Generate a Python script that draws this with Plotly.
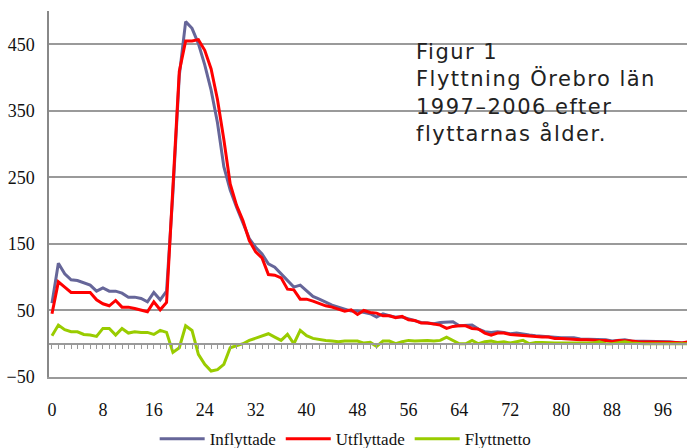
import plotly.graph_objects as go

ages = list(range(0, 101))

inflyttade = [61, 121, 105, 96, 95, 91, 88, 79, 84, 79, 79, 76, 70, 70, 68, 63, 77, 66, 79, 227,
              403, 484, 474, 451, 419, 381, 332, 266, 231, 205, 180, 158, 145, 135, 120, 115, 105, 95, 85, 88,
              79, 71, 67, 62, 58, 55, 52, 49, 49, 47, 45, 40, 45, 42, 40, 40, 37, 34, 32, 31,
              30, 32, 33, 33, 27, 27, 28, 22, 18, 17, 18, 17, 15, 16, 14, 13, 12, 11, 11, 10,
              9, 9, 9, 7, 7, 6, 6, 6, 4, 5, 6, 4, 4, 3, 3, 3, 3, 3, 2, 1, 2]

utflyttade = [45, 93, 85, 77, 77, 77, 77, 66, 60, 57, 65, 55, 55, 53, 50, 48, 63, 51, 62, 240,
              409, 455, 455, 457, 441, 413, 367, 307, 240, 208, 185, 155, 138, 129, 104, 103, 99, 82, 81, 67,
              67, 64, 60, 57, 55, 52, 49, 51, 44, 50, 47, 46, 42, 42, 39, 41, 36, 35, 31, 31,
              30, 28, 23, 26, 27, 27, 23, 22, 16, 13, 16, 16, 14, 13, 12, 12, 10, 10, 10, 8,
              8, 7, 7, 6, 6, 5, 5, 5, 3, 5, 5, 4, 3, 3, 3, 3, 3, 3, 2, 1, 3]

flyttnetto = [12, 28, 21, 18, 18, 14, 13, 11, 23, 23, 13, 23, 16, 18, 17, 17, 14, 20, 17, -13,
              -6, 27, 20, -16, -31, -41, -39, -31, -6, -3, 0, 5, 8, 12, 15, 10, 5, 14, 0, 20,
              12, 8, 6, 5, 4, 3, 4, 4, 4, 1, 2, -4, 4, 4, 0, 3, 5, 4, 5, 5,
              4, 5, 10, 5, 0, 0, 5, 0, 3, 4, 2, 3, 1, 3, 5, 0, 2, 2, 1, 1,
              1, 1, 1, 1, 1, 1, 3, 0, 0, 1, 3, 1, 0, 0, 0, 0, 0, 0, 0, 0, 0]

x_ticks = list(range(0, 97, 8))
y_ticks = [-50, 50, 150, 250, 350, 450]
title_lines = ["Figur 1", "Flyttning Örebro län", "1997–2006 efter", "flyttarnas ålder."]

serif = "Liberation Serif, Times New Roman, serif"
grid = "#9a9a9a"
xr = [-0.47, 99.77]

fig = go.Figure()
fig.add_trace(go.Scatter(x=ages, y=inflyttade, mode="lines", name="Inflyttade",
                         line=dict(color="#666699", width=3)))
fig.add_trace(go.Scatter(x=ages, y=utflyttade, mode="lines", name="Utflyttade",
                         line=dict(color="#ff0000", width=3)))
fig.add_trace(go.Scatter(x=ages, y=flyttnetto, mode="lines", name="Flyttnetto", xaxis="x2",
                         line=dict(color="#99cc00", width=3)))

fig.update_layout(
    width=687, height=448,
    margin=dict(l=49, r=0, t=11, b=71, autoexpand=False),
    paper_bgcolor="white", plot_bgcolor="white",
    font=dict(family=serif, size=18, color="#111"),
    xaxis=dict(range=xr, tickvals=x_ticks, showgrid=False, zeroline=False,
               showline=True, linecolor=grid, linewidth=1.5,
               ticks="", ticklabelstandoff=16, tickfont=dict(family=serif, size=18)),
    xaxis2=dict(range=xr, overlaying="x", anchor="free", position=50 / 550, side="bottom",
                showline=True, linecolor=grid, linewidth=1.5, showgrid=False, zeroline=False,
                ticks="outside", ticklen=5, tickwidth=1.2, tickcolor="#999", tick0=0, dtick=1,
                showticklabels=False),
    yaxis=dict(range=[-50, 500], tickvals=y_ticks, showgrid=True, gridcolor=grid, gridwidth=1.5,
               zeroline=False, showline=True, linecolor="#888", linewidth=1.5,
               ticks="", ticklabelstandoff=9, tickfont=dict(family=serif, size=18)),
    legend=dict(orientation="h", x=0.465, xanchor="center", y=-0.17, yanchor="middle",
                font=dict(family=serif, size=17), itemwidth=45, tracegroupgap=0),
    showlegend=True,
)

fig.add_shape(type="rect", xref="paper", yref="paper", x0=0.538, x1=1.0, y0=0.6, y1=0.97,
              fillcolor="white", line=dict(width=0), layer="between")
fig.add_annotation(xref="paper", yref="paper", x=0.572, y=0.926, xanchor="left", yanchor="top",
                   text="<br>".join(title_lines), showarrow=False, align="left",
                   font=dict(family="DejaVu Sans, sans-serif", size=21, color="#222"))

post = (
    "document.body.style.margin='0';"
    "document.querySelectorAll('.annotation-text').forEach(function(e){e.style.letterSpacing='1.5px';});"
)
fig.write_html("out.html", post_script=post, config={"displayModeBar": False})
